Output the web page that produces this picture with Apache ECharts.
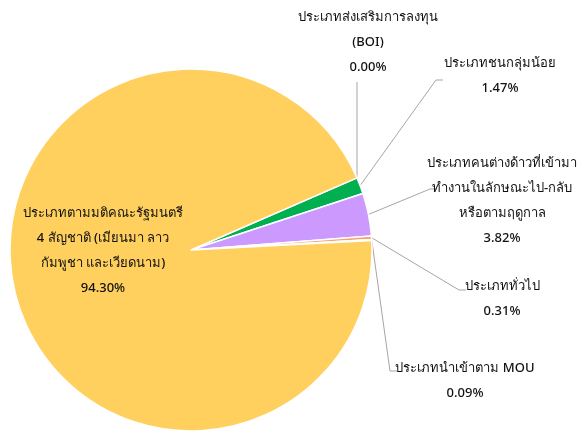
<!DOCTYPE html>
<html><head><meta charset="utf-8">
<script src="https://cdn.jsdelivr.net/npm/echarts@6/dist/echarts.min.js"></script>
<style>html,body{margin:0;background:#fff}#c{width:577px;height:432px}</style>
</head><body><div id="c"></div>
<script>
const categories = [
  'ประเภทส่งเสริมการลงทุน\n(BOI)',
  'ประเภทชนกลุ่มน้อย',
  'ประเภทคนต่างด้าวที่เข้ามา\nทำงานในลักษณะไป-กลับ\nหรือตามฤดูกาล',
  'ประเภททั่วไป',
  'ประเภทนำเข้าตาม MOU',
  'ประเภทตามมติคณะรัฐมนตรี\n4 สัญชาติ (เมียนมา ลาว\nกัมพูชา และเวียดนาม)'
];
const shares = [0.00, 1.47, 3.82, 0.31, 0.09, 94.30];
const sliceColors = ['#5B9BD5', '#00B050', '#CC99FF', '#F4A46A', '#A5A5A5', '#FFD05E'];

// label placement (pixel layout, not data)
const labelPos = [
  {x: 368, y: 42, line: 'up'},
  {x: 500, y: 76, lineY: 80, lx: 443},
  {x: 502, y: 201, lineY: 189, lx: 437},
  {x: 502, y: 299, lineY: 290, lx: 466},
  {x: 465, y: 381, lineY: 371, lx: 397},
  {x: 103, y: 251}
];

const chart = echarts.init(document.getElementById('c'), null, {renderer: 'canvas'});
const data = categories.map((n, i) => ({
  name: n, value: shares[i], itemStyle: {color: sliceColors[i]},
  label: i === 5 ? {position: 'inside'} : {}
}));
chart.setOption({
  animation: false,
  backgroundColor: '#fff',
  series: [{
    type: 'pie',
    center: [191, 250],
    radius: [0, 181],
    startAngle: 23.5,
    clockwise: true,
    minAngle: 0,
    avoidLabelOverlap: false,
    data: data,
    itemStyle: {borderColor: '#fff', borderWidth: 1.5},
    label: {
      show: true,
      formatter: p => p.name + '\n' + p.value.toFixed(2) + '%',
      fontFamily: 'Tahoma, "Noto Sans", sans-serif',
      fontSize: 13,
      fontWeight: 500,
      lineHeight: 25,
      color: '#111',
      align: 'center'
    },
    labelLine: {show: true, length: 20, length2: 10, lineStyle: {color: '#A6A6A6', width: 1}},
    labelLayout: function (p) {
      const lp = labelPos[p.dataIndex];
      const out = {x: lp.x, y: lp.y, align: 'center', verticalAlign: 'middle', hideOverlap: false, moveOverlap: null};
      const pts = p.labelLinePoints;
      if (pts && pts.length && p.dataIndex !== 5) {
        const s = pts[0];
        if (lp.line === 'up') {
          out.labelLinePoints = [[s[0], s[1]], [s[0], 82], [s[0], 82]];
        } else {
          out.labelLinePoints = [[s[0], s[1]], [lp.lx - 7, lp.lineY], [lp.lx, lp.lineY]];
        }
      }
      return out;
    }
  }]
});
</script></body></html>
